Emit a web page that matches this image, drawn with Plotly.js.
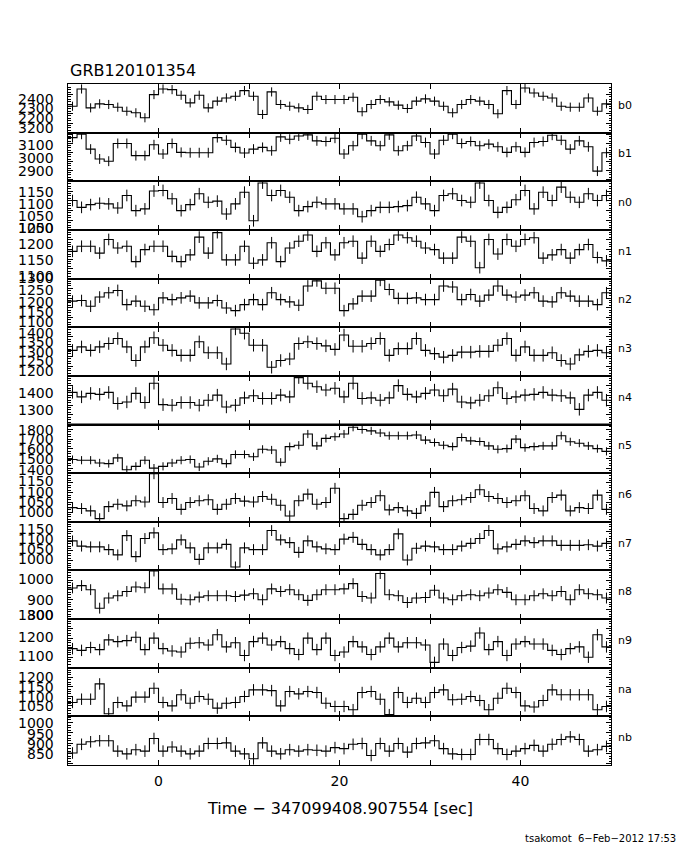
<!DOCTYPE html>
<html><head><meta charset="utf-8">
<script src="https://cdn.plot.ly/plotly-3.0.1.min.js"></script>
<style>html,body{margin:0;padding:0;background:#fff}#plot{width:680px;height:850px}</style>
</head><body><div id="plot"></div>
<script>
// ---------------- DATA ----------------
const titleText = 'GRB120101354';
const xTitleText = 'Time \u2212 347099408.907554 [sec]';
const footerText = 'tsakomot  6\u2212Feb\u22122012 17:53';

const binCenters = [-9.5,-8.5,-7.5,-6.5,-5.5,-4.5,-3.5,-2.5,-1.5,-0.5,
  0.5,1.5,2.5,3.5,4.5,5.5,6.5,7.5,8.5,9.5,
  10.5,11.5,12.5,13.5,14.5,15.5,16.5,17.5,18.5,19.5,
  20.5,21.5,22.5,23.5,24.5,25.5,26.5,27.5,28.5,29.5,
  30.5,31.5,32.5,33.5,34.5,35.5,36.5,37.5,38.5,39.5,
  40.5,41.5,42.5,43.5,44.5,45.5,46.5,47.5,48.5,49.5];
const xTickValues = [0, 10, 20, 30, 40];
const xTickLabels = ['0', '', '20', '', '40'];

const detectors = ['b0','b1','n0','n1','n2','n3','n4','n5','n6','n7','n8','n9','na','nb'];

const b0 = [2277,2458,2260,2302,2295,2267,2225,2208,2156,2399, 2458,2451,2392,2312,2392,2260,2330,2364,2382,2441,
  2382,2191,2427,2295,2277,2260,2243,2382,2347,2347, 2347,2371,2219,2295,2347,2323,2288,2253,2330,2354,
  2330,2277,2208,2295,2347,2330,2295,2198,2441,2295, 2468,2416,2382,2364,2277,2267,2267,2364,2225,2302];
const b1 = [3165,3202,3037,2928,2903,3100,3100,2965,2965,3085, 2983,3100,3001,2997,2997,2997,3165,3136,3056,2994,
  3037,3056,3019,3173,3147,3183,3195,3129,3122,3158, 2983,3074,3202,3129,3074,3195,3019,3074,3183,3110,
  2983,3136,3202,3100,3122,3074,3092,3063,3001,3063, 3001,3110,3122,3191,3136,3037,3129,3063,2793,2997];
const n0 = [1101,1066,1080,1087,1084,1063,1127,1049,1058,1150, 1153,1110,1049,1080,1136,1092,1098,1032,1084,1144,
  997,1191,1127,1153,1118,1049,1070,1092,1084,1084, 1058,1058,1018,1049,1066,1066,1070,1075,1118,1084,
  1049,1127,1136,1101,1092,1191,1101,1040,1066,1105, 1153,1058,1144,1101,1170,1118,1092,1136,1101,1127];
const n1 = [1190,1216,1216,1181,1251,1207,1216,1137,1199,1216, 1216,1164,1137,1172,1263,1181,1286,1146,1146,1216,
  1129,1146,1234,1137,1207,1242,1274,1190,1234,1172, 1234,1242,1155,1242,1190,1225,1274,1260,1242,1207,
  1199,1155,1155,1263,1242,1106,1251,1176,1251,1216, 1251,1260,1155,1172,1199,1155,1199,1225,1158,1141];
const n2 = [1234,1237,1208,1255,1277,1289,1216,1234,1208,1190, 1251,1242,1251,1260,1225,1225,1237,1199,1185,1216,
  1242,1216,1277,1242,1230,1213,1312,1338,1300,1300, 1185,1220,1260,1260,1341,1294,1248,1248,1251,1242,
  1242,1312,1307,1242,1268,1234,1265,1312,1265,1255, 1265,1277,1234,1230,1277,1260,1234,1234,1216,1277];
const n3 = [1331,1349,1331,1349,1366,1392,1349,1279,1349,1396, 1357,1331,1305,1305,1375,1319,1319,1261,1441,1419,
  1357,1357,1244,1279,1287,1366,1375,1366,1354,1336, 1410,1352,1352,1366,1392,1305,1340,1340,1392,1331,
  1314,1296,1305,1322,1322,1326,1326,1357,1392,1305, 1349,1305,1305,1319,1279,1261,1308,1326,1331,1319];
const n4 = [1415,1392,1410,1405,1415,1358,1366,1410,1363,1462, 1352,1349,1363,1363,1349,1375,1401,1340,1349,1387,
  1398,1384,1384,1401,1392,1491,1462,1444,1427,1436, 1392,1462,1384,1387,1375,1387,1450,1405,1392,1410,
  1427,1398,1432,1366,1361,1375,1398,1439,1384,1392, 1401,1405,1415,1401,1398,1387,1328,1401,1415,1375];
const n5 = [1490,1483,1483,1455,1448,1507,1385,1420,1483,1402, 1420,1455,1483,1490,1413,1472,1497,1448,1542,1542,
  1518,1595,1588,1462,1623,1637,1752,1630,1707,1724, 1752,1822,1798,1784,1763,1735,1735,1735,1742,1689,
  1665,1637,1623,1717,1682,1675,1630,1595,1602,1700, 1612,1623,1630,1630,1735,1672,1658,1630,1602,1574];
const n6 = [1023,1018,1006,966,1028,1040,1032,1058,1052,1197, 1049,1070,1014,1049,1058,1063,1014,1040,1070,1056,
  1052,1080,1066,1035,980,1058,1092,1040,1049,1122, 966,988,1035,1049,1084,1011,1023,1006,993,1032,
  1101,1028,1058,1063,1075,1115,1080,1070,1049,1058, 1084,1018,1006,1075,1087,1006,1023,1018,1087,1014];
const n7 = [1102,1075,1071,1071,1057,1030,1129,1021,1114,1143, 1057,1061,1107,1066,1007,1066,1066,1084,968,1066,
  1057,1057,1155,1107,1093,1043,1102,1071,1061,1057, 1111,1120,1084,1057,1030,1057,1138,1004,1064,1075,
  1071,1057,1057,1075,1089,1114,1155,1061,1071,1084, 1102,1093,1102,1102,1079,1079,1079,1082,1075,1089];
const n8 = [960,972,951,856,908,920,942,965,961,1047, 955,955,902,899,913,920,920,920,916,923,
  930,899,955,942,951,925,896,925,951,951, 955,982,916,908,1034,925,920,885,908,911,
  948,908,899,920,925,920,934,951,937,899, 899,920,930,920,942,899,951,930,925,908];
const n9 = [1145,1136,1151,1140,1191,1182,1187,1205,1140,1200, 1145,1133,1127,1173,1176,1164,1218,1154,1176,1109,
  1182,1200,1164,1182,1145,1114,1200,1140,1200,1109, 1127,1182,1154,1114,1154,1200,1154,1176,1176,1164,
  1073,1169,1109,1151,1158,1227,1140,1182,1109,1169, 1182,1169,1169,1136,1114,1145,1154,1100,1218,1154];
const na = [1068,1085,1085,1165,1009,1068,1050,1096,1096,1142, 1068,1050,1108,1064,1099,1085,1038,1064,1068,1099,
  1134,1134,1130,1050,1125,1113,1125,1120,1064,1047, 1047,1030,1120,1125,1085,1004,1120,1068,1090,1068,
  1120,1134,1082,1085,1099,1078,1030,1090,1142,1120, 1050,1044,1078,1134,1108,1108,1108,1108,1030,1047];
const nb = [853,895,907,912,912,862,849,869,862,923, 862,882,862,849,862,899,899,902,862,849,
  825,902,862,849,869,862,869,866,862,879, 874,895,899,841,899,862,899,857,899,902,
  912,874,849,846,846,918,918,874,846,862, 874,890,862,895,918,931,918,862,869,885];

const rates = [b0,b1,n0,n1,n2,n3,n4,n5,n6,n7,n8,n9,na,nb];
const rateErrors = [48,55,30,30,30,32,32,42,28,28,28,30,30,28];

const yTickLabels = [
  ['2400','2300','2200'],
  ['3200','3100','3000','2900'],
  ['1150','1100','1050','1000'],
  ['1250','1200','1150','1100'],
  ['1300','1250','1200','1150','1100'],
  ['1400','1350','1300','1250','1200'],
  ['1400','1300'],
  ['1800','1700','1600','1500','1400'],
  ['1150','1100','1050','1000'],
  ['1150','1100','1050','1000'],
  ['1000','900','800'],
  ['1300','1200','1100'],
  ['1200','1150','1100','1050'],
  ['1000','950','900','850']
];

// ---------------- LAYOUT CONFIG ----------------
const W = 680, H = 850;
const plotL = 68, plotR = 611, plotT = 84, plotB = 765;
const yRanges = [[2000,2510],[2680,3220],[950,1200],[1050,1300],[1100,1350],[1200,1450],[1250,1500],
  [1350,1850],[950,1200],[950,1200],[800,1050],[1045,1300],[995,1250],[795,1030]];
const yMajor = [100,100,50,50,50,50,50,100,50,50,50,50,50,50];
const yMinor = [25,25,12.5,12.5,12.5,12.5,12.5,25,12.5,12.5,12.5,12.5,12.5,12.5];
// pixel rows where the reference prints each panel's y labels
const yLabelPx = [
  [98.5,108,118.3],
  [127.5,145,158,171],
  [192,204,216,228],
  [228,244,260,276],
  [278,290,301.5,312,322],
  [333,342.5,352,361.5,371],
  [393,410.5],
  [430,439,449,459,470],
  [481,492,502,512],
  [529,539,549,559],
  [579,599.5,615],
  [615,637,656],
  [677,686.5,696.5,706],
  [722.5,733.5,744,754]
];

rates.forEach((r,i)=>{ if(r.length!==binCenters.length) throw new Error('length mismatch '+detectors[i]+' '+r.length); });

const pw = plotR - plotL, ph = plotB - plotT;
const px2x = p => (p - plotL) / pw;
const py2y = p => (plotB - p) / ph;
const N = detectors.length;
const FONT = 'DejaVu Sans, Liberation Sans, sans-serif';

const traces = [];
const layout = {
  width: W, height: H,
  margin: {l: plotL, r: W - plotR, t: plotT, b: H - plotB, pad: 0},
  paper_bgcolor: '#fff', plot_bgcolor: '#fff',
  showlegend: false,
  font: {family: FONT, color: '#000', size: 12},
  annotations: [], shapes: []
};

const xFirst = binCenters[0] - 0.5, xLast = binCenters[binCenters.length-1] + 0.5;

for (let k = 0; k < N; k++) {
  const s = k === 0 ? '' : String(k + 1);
  const vals = rates[k];
  traces.push({
    type: 'scatter', mode: 'lines',
    x: [xFirst].concat(binCenters, [xLast]),
    y: [vals[0]].concat(vals, [vals[vals.length-1]]),
    line: {shape: 'hvh', color: '#000', width: 1.1},
    xaxis: 'x' + s, yaxis: 'y' + s, hoverinfo: 'skip', cliponaxis: true
  });
  traces.push({
    type: 'scatter', mode: 'markers',
    x: binCenters, y: vals,
    marker: {size: 1, color: 'rgba(0,0,0,0)'},
    error_y: {type: 'constant', value: rateErrors[k], width: 0, thickness: 1, color: '#000'},
    xaxis: 'x' + s, yaxis: 'y' + s, hoverinfo: 'skip', cliponaxis: true
  });
  const bottom = k === N - 1;
  layout['xaxis' + s] = {
    domain: [0, 1], anchor: 'y' + s, range: [xFirst, xLast],
    showline: true, linecolor: '#000', linewidth: 1, mirror: 'ticks',
    ticks: 'inside', ticklen: 5, tickcolor: '#000', tickwidth: 1,
    tickmode: 'array', tickvals: xTickValues, ticktext: xTickLabels,
    showticklabels: bottom, tickfont: {family: FONT, size: 14, color: '#000'},
    ticklabelstandoff: 3,
    showgrid: false, zeroline: false, fixedrange: true
  };
  layout['yaxis' + s] = {
    domain: [1 - (k + 1) / N, 1 - k / N], anchor: 'x' + s, range: yRanges[k],
    showline: true, linecolor: '#000', linewidth: 1, mirror: 'ticks',
    ticks: 'inside', ticklen: 5, tickcolor: '#000', tickwidth: 1, dtick: yMajor[k], tick0: 0,
    minor: {ticks: 'inside', ticklen: 2.5, dtick: yMinor[k], tick0: 0, tickcolor: '#000', showgrid: false},
    showticklabels: false, showgrid: false, zeroline: false, fixedrange: true
  };
  yTickLabels[k].forEach((t, j) => {
    layout.annotations.push({
      xref: 'paper', yref: 'paper', x: px2x(56), y: py2y(yLabelPx[k][j]),
      xanchor: 'right', yanchor: 'middle', showarrow: false, text: t,
      font: {family: FONT, size: 14, color: '#000'}
    });
  });
  const mid = plotT + (k + 0.5) * ph / N;
  layout.annotations.push({
    xref: 'paper', yref: 'paper', x: px2x(616), y: py2y(mid - 3),
    xanchor: 'left', yanchor: 'middle', showarrow: false, text: detectors[k],
    font: {family: FONT, size: 11, color: '#000'}
  });
}

layout.shapes.push({type: 'line', xref: 'paper', yref: 'paper', x0: 0, x1: 1, y0: 0.5, y1: 0.5,
  line: {color: '#000', width: 2}});

layout.annotations.push({xref: 'paper', yref: 'paper', x: px2x(68), y: py2y(70), xanchor: 'left', yanchor: 'middle',
  showarrow: false, text: titleText, font: {family: FONT, size: 16, color: '#000'}});
layout.annotations.push({xref: 'paper', yref: 'paper', x: px2x(340), y: py2y(808), xanchor: 'center', yanchor: 'middle',
  showarrow: false, text: xTitleText, font: {family: FONT, size: 16, color: '#000'}});
layout.annotations.push({xref: 'paper', yref: 'paper', x: px2x(678), y: py2y(838), xanchor: 'right', yanchor: 'middle',
  showarrow: false, text: footerText, font: {family: FONT, size: 10, color: '#000'}});

Plotly.newPlot('plot', traces, layout, {displayModeBar: false, staticPlot: true});
</script>
</body></html>
